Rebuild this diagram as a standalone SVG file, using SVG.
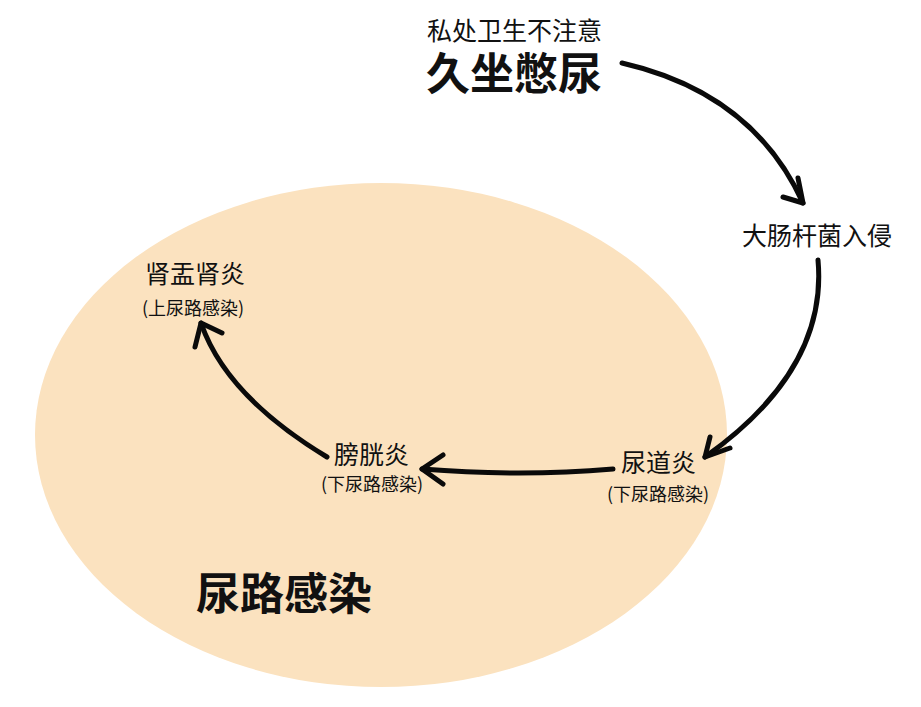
<svg xmlns="http://www.w3.org/2000/svg" width="921" height="707" viewBox="0 0 921 707">
<style>
text{font-family:"Noto Sans CJK SC","Noto Sans",sans-serif;fill:#111}
.t{font-size:25px}
.big{font-size:44px;font-weight:bold}
.sub{font-size:18px}
.ln{fill:none;stroke:#0a0a0a;stroke-width:5;stroke-linecap:round;stroke-linejoin:round}
</style>
<rect width="921" height="707" fill="#ffffff"/>
<ellipse id="bg" cx="381" cy="435" rx="346" ry="252" fill="#FBE2BF"/>
<g id="connectors">
<path class="ln" d="M622,63 Q753,93 803,203"/>
<polyline class="ln" points="798,178 803,203 783,197"/>
<path class="ln" d="M818,260 Q828,370 705,457"/>
<polyline class="ln" points="710,437 705,457 730,448"/>
<path class="ln" d="M613,469 Q520,477 422,469"/>
<polyline class="ln" points="443,455 422,469 443,484"/>
<path class="ln" d="M327,457 Q226,396 201,323"/>
<polyline class="ln" points="195,347 201,323 222,333"/>
</g>
<g id="n-cause">
<text class="t" x="427" y="40">私处卫生不注意</text>
<text class="big" x="426" y="90">久坐憋尿</text>
</g>
<g id="n-ecoli">
<text class="t" x="742" y="245">大肠杆菌入侵</text>
</g>
<g id="n-urethritis">
<text class="t" x="621" y="472">尿道炎</text>
<text class="sub" x="607" y="501">(下尿路感染)</text>
</g>
<g id="n-cystitis">
<text class="t" x="334" y="464">膀胱炎</text>
<text class="sub" x="321" y="491">(下尿路感染)</text>
</g>
<g id="n-pyelo">
<text class="t" x="145" y="283">肾盂肾炎</text>
<text class="sub" x="142" y="315">(上尿路感染)</text>
</g>
<g id="n-uti">
<text class="big" x="196" y="610">尿路感染</text>
</g>
</svg>
